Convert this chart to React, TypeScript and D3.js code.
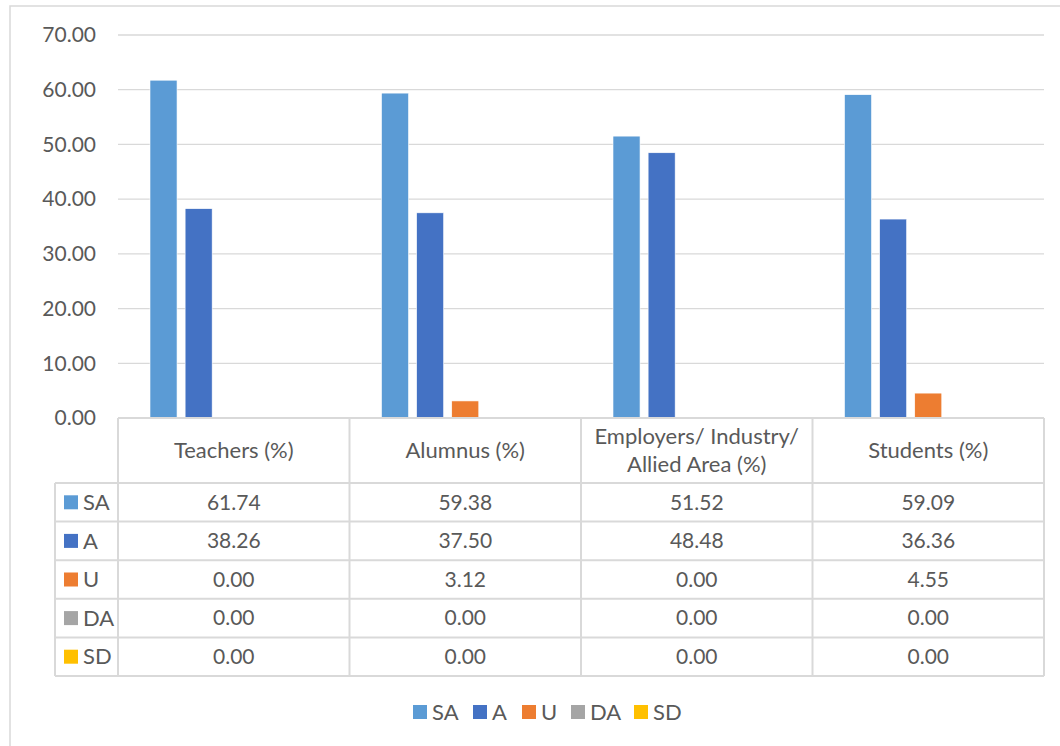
import React from "react";
import * as d3 from "d3";

const categories = ["Teachers (%)", "Alumnus (%)", "Employers/ Industry/ Allied Area (%)", "Students (%)"];
const headerLines = [["Teachers (%)"], ["Alumnus (%)"], ["Employers/ Industry/", "Allied Area (%)"], ["Students (%)"]];
const seriesNames = ["SA", "A", "U", "DA", "SD"];
const seriesColors = ["#5B9BD5", "#4472C4", "#ED7D31", "#A5A5A5", "#FFC000"];
const SA = [61.74, 59.38, 51.52, 59.09];
const A = [38.26, 37.5, 48.48, 36.36];
const U = [0.0, 3.12, 0.0, 4.55];
const DA = [0.0, 0.0, 0.0, 0.0];
const SD = [0.0, 0.0, 0.0, 0.0];
const seriesValues = [SA, A, U, DA, SD];
const yTicks = [0, 10, 20, 30, 40, 50, 60, 70];

const FONT = "Lato, 'Open Sans', sans-serif";
const TXT = "#595959";
const GRID = "#d9d9d9";

export default function App() {
  const W = 1060, H = 746;
  const left = 118, right = 1044, top = 35, bottom = 418;
  const y = d3.scaleLinear().domain([0, 70]).range([bottom, top]);
  const x0 = d3.scaleBand<string>().domain(categories).range([left, right]).padding(0);
  const bw = x0.bandwidth();
  const x1 = d3.scaleBand<string>().domain(seriesNames).range([32, bw - 32]).paddingInner(0.23).paddingOuter(0);

  const headerBottom = 483;
  const rowH = 38.6;
  const labelLeft = 55;
  const tableBottom = headerBottom + rowH * seriesNames.length;
  const fsNum = 21;
  const fsTxt = 22;

  const legendItems = [
    { name: "SA", x: 413 },
    { name: "A", x: 473 },
    { name: "U", x: 522 },
    { name: "DA", x: 571 },
    { name: "SD", x: 634 },
  ];

  return (
    <svg width={W} height={H} style={{ position: "absolute", left: 0, top: 0, background: "#fff" }} fontFamily={FONT}>
      <rect x={10} y={6} width={1070} height={760} fill="#fff" stroke={GRID} strokeWidth={1.5} />
      {yTicks.map((t) => (
        <g key={t}>
          {t > 0 && <line x1={left} x2={right} y1={y(t)} y2={y(t)} stroke={GRID} strokeWidth={1.3} />}
          <text x={96} y={y(t)} dy="0.35em" textAnchor="end" fontSize={fsNum} fill={TXT}>
            {d3.format(".2f")(t)}
          </text>
        </g>
      ))}
      {categories.map((c, ci) => (
        <g key={c} transform={`translate(${x0(c)},0)`}>
          {seriesNames.map((s, si) => {
            const v = seriesValues[si][ci];
            if (v <= 0) return null;
            return (
              <rect key={s} x={x1(s)} y={y(v)} width={x1.bandwidth()} height={y(0) - y(v)} fill={seriesColors[si]} stroke="#fff" strokeWidth={0.6} />
            );
          })}
        </g>
      ))}
      <g stroke={GRID} strokeWidth={2} fill="none">
        <line x1={left} x2={right} y1={bottom} y2={bottom} />
        <line x1={labelLeft} x2={right} y1={headerBottom} y2={headerBottom} />
        {seriesNames.map((s, i) => (
          <line key={s} x1={labelLeft} x2={right} y1={headerBottom + rowH * (i + 1)} y2={headerBottom + rowH * (i + 1)} />
        ))}
        <line x1={labelLeft} x2={labelLeft} y1={headerBottom} y2={tableBottom} />
        {categories.map((c) => (
          <line key={c} x1={x0(c)} x2={x0(c)} y1={bottom} y2={tableBottom} />
        ))}
        <line x1={right} x2={right} y1={bottom} y2={tableBottom} />
      </g>
      {categories.map((c, ci) => {
        const lines = headerLines[ci];
        const cx = (x0(c) as number) + bw / 2;
        const mid = (bottom + headerBottom) / 2;
        return (
          <g key={c}>
            {lines.map((l, li) => (
              <text key={li} x={cx} y={mid + (li - (lines.length - 1) / 2) * 28} dy="0.35em" textAnchor="middle" fontSize={fsTxt} fill={TXT}>
                {l}
              </text>
            ))}
            {seriesNames.map((s, si) => (
              <text key={s} x={cx} y={headerBottom + rowH * (si + 0.5)} dy="0.35em" textAnchor="middle" fontSize={fsNum} fill={TXT}>
                {d3.format(".2f")(seriesValues[si][ci])}
              </text>
            ))}
          </g>
        );
      })}
      {seriesNames.map((s, si) => (
        <g key={s}>
          <rect x={64} y={headerBottom + rowH * (si + 0.5) - 7} width={14} height={14} fill={seriesColors[si]} />
          <text x={83} y={headerBottom + rowH * (si + 0.5)} dy="0.35em" fontSize={fsTxt} fill={TXT}>
            {s}
          </text>
        </g>
      ))}
      {legendItems.map((it, i) => (
        <g key={it.name}>
          <rect x={it.x} y={705} width={14} height={14} fill={seriesColors[i]} />
          <text x={it.x + 19} y={712} dy="0.35em" fontSize={fsTxt} fill={TXT}>
            {it.name}
          </text>
        </g>
      ))}
    </svg>
  );
}
